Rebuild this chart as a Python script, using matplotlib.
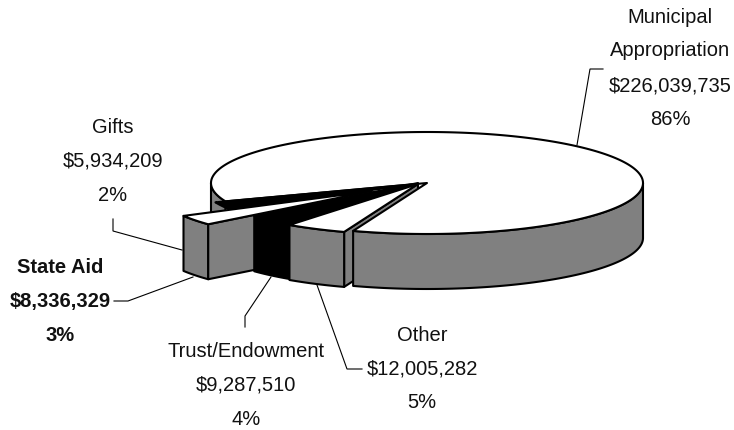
import numpy as np
import matplotlib
matplotlib.use("Agg")
import matplotlib.pyplot as plt
from matplotlib.patches import Polygon

# ---- data ----
categories = ["Municipal Appropriation", "Gifts", "State Aid", "Trust/Endowment", "Other"]
values = [226039735, 5934209, 8336329, 9287510, 12005282]
percents = ["86%", "2%", "3%", "4%", "5%"]

# ---- style ----
START = 250.0
CX, CY, RX, RY, DEPTH = 427.0, 184.0, 216.0, 51.0, 55.0
offsets = {"Municipal Appropriation": (0, 0), "Gifts": (-10, 1), "State Aid": (-55, 8),
           "Trust/Endowment": (-9, 0), "Other": (-9, 1)}
top_col = {"Municipal Appropriation": "white", "Gifts": "black", "State Aid": "white",
           "Trust/Endowment": "black", "Other": "white"}
side_col = {"Municipal Appropriation": "#808080", "Gifts": "black", "State Aid": "#808080",
            "Trust/Endowment": "black", "Other": "#808080"}
LW = 1.5
FS = 14.5

plt.rcParams["font.family"] = ["Liberation Sans", "DejaVu Sans"]
fig = plt.figure(figsize=(7.34, 4.31), dpi=100)
ax = fig.add_axes([0, 0, 1, 1])
ax.set_xlim(0, 734)
ax.set_ylim(431, 0)
ax.axis("off")

spans = np.array(values) / np.sum(values) * 360.0
edges = START + np.concatenate([[0], np.cumsum(spans)])
wedge = {c: (edges[i], edges[i + 1]) for i, c in enumerate(categories)}


def pts(c, t, drop=0.0):
    t = np.radians(np.asarray(t, float))
    dx, dy = offsets[c]
    return np.column_stack([CX + dx + RX * np.cos(t), CY + dy - RY * np.sin(t) + drop])


def poly(xy, fc, z):
    ax.add_patch(Polygon(xy, closed=True, fc=fc, ec="black", lw=LW, joinstyle="round", zorder=z))


def arc(a, b):
    return np.linspace(a, b, max(3, int(abs(b - a)) + 2))


def apex(c, drop=0.0):
    dx, dy = offsets[c]
    return np.array([[CX + dx, CY + dy + drop]])


def cut_face(c, ang, z, frac=1.0):
    rim = pts(c, [ang])
    inner = rim + (apex(c) - rim) * frac
    p = np.vstack([rim, inner, inner + [0, DEPTH], rim + [0, DEPTH]])
    poly(p, side_col[c], z)


def outer(c, a, b, z):
    t = arc(a, b)
    poly(np.vstack([pts(c, t), pts(c, t[::-1], DEPTH)]), side_col[c], z)


def top(c, z):
    a, b = wedge[c]
    poly(np.vstack([apex(c), pts(c, arc(a, b))]), top_col[c], z)


m, g, s, t, o = categories
# Cut face of "Other" sits behind the large slice
cut_face(o, wedge[o][1], 1)
# Municipal
outer(m, wedge[m][0], 360, 2)
outer(m, 540, wedge[m][1], 2)
top(m, 3)
# Gifts
top(g, 4)
# State Aid: only the part of its cut face not hidden by the next slice
outer(s, wedge[s][0], wedge[s][1], 5)
cut_face(s, wedge[s][1], 5, frac=0.33)
top(s, 6)
# Trust
outer(t, wedge[t][0], wedge[t][1], 7)
top(t, 8)
# Other
outer(o, wedge[o][0], wedge[o][1], 9)
top(o, 10)


def money(v):
    return f"${v:,}"


val = dict(zip(categories, values))
pct = dict(zip(categories, percents))
labels = [
    (670, [23, 56, 92, 125], ["Municipal", "Appropriation", money(val[m]), pct[m]], "normal"),
    (113, [133, 167, 201], [g, money(val[g]), pct[g]], "normal"),
    (60, [273, 307, 341], [s, money(val[s]), pct[s]], "bold"),
    (246, [357, 391, 425], [t, money(val[t]), pct[t]], "normal"),
    (422, [341, 375, 408], [o, money(val[o]), pct[o]], "normal"),
]
for x, ys, lines, weight in labels:
    for y, line in zip(ys, lines):
        ax.text(x, y, line, ha="center", va="baseline", fontsize=FS, fontweight=weight, color="#111111", zorder=20)

leaders = [
    ([603, 590, 577], [70, 70, 146]),
    ([113, 113, 182], [220, 232, 251]),
    ([114, 128, 193], [302, 302, 278]),
    ([245, 245, 271], [328, 317, 278]),
    ([362, 347, 317], [370, 370, 286]),
]
for xs, ys in leaders:
    ax.plot(xs, ys, color="black", lw=0.8, zorder=0.5, solid_joinstyle="miter")

fig.savefig("out.png", dpi=100, facecolor="white")
